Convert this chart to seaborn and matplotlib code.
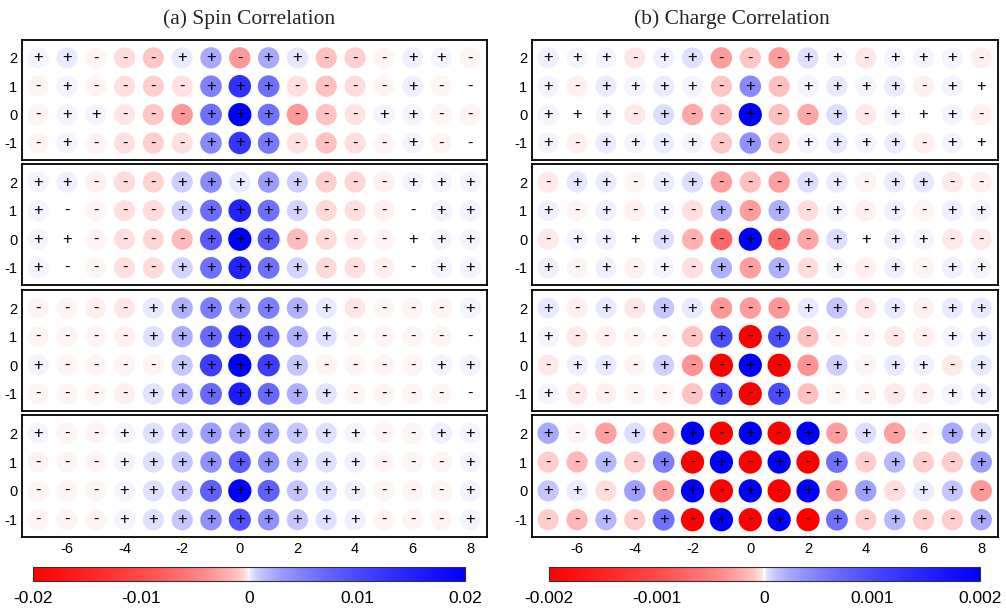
import numpy as np
import pandas as pd
import matplotlib
matplotlib.use("Agg")
import matplotlib.pyplot as plt
import seaborn as sns
from matplotlib.colors import ListedColormap, Normalize
from matplotlib.cm import ScalarMappable

# ---------------- data ----------------
x_sites = list(range(-7, 9))
y_sites = [2, 1, 0, -1]
x_ticks = [-6, -4, -2, 0, 2, 4, 6, 8]

titles = ["(a) Spin Correlation", "(b) Charge Correlation"]

spin_unit = 1e-3      # spin values below are in units of 1e-3
charge_unit = 1e-4    # charge values below are in units of 1e-4
spin_lim = 0.02
charge_lim = 0.002
spin_cbar_ticks = [-0.02, -0.01, 0.0, 0.01, 0.02]
spin_cbar_labels = ["-0.02", "-0.01", "0", "0.01", "0.02"]
charge_cbar_ticks = [-0.002, -0.001, 0.0, 0.001, 0.002]
charge_cbar_labels = ["-0.002", "-0.001", "0", "0.001", "0.002"]

# rows are y = 2, 1, 0, -1 ; columns are x = -7 ... 8
spin_p1 = [
    [0.02, 0.1, -0.05, -0.35, -1.0, 0.15, 2.3, -3.2, 2.3, 0.2, -1.2, -0.7, -0.05, 0.08, 0.03, -0.05],
    [-0.03, 0.05, -0.03, -0.3, -0.7, -0.3, 5.0, 13.0, 6.3, -0.3, -1.2, -0.4, -0.03, 0.06, -0.02, -0.01],
    [-0.03, 0.05, 0.02, -0.2, -1.0, -3.2, 6.3, 20.0, 6.3, -3.2, -1.1, -0.25, 0.03, 0.05, -0.03, -0.03],
    [-0.03, 0.05, -0.03, -0.3, -0.7, -0.3, 4.3, 12.5, 5.6, -0.3, -1.2, -0.3, -0.02, 0.04, -0.02, -0.01],
]
spin_p2 = [
    [0.03, 0.06, -0.07, -0.4, -0.6, 0.7, 4.2, 0.1, 3.0, 0.7, -0.7, -0.5, -0.07, 0.04, 0.02, 0.02],
    [0.03, -0.01, -0.05, -0.3, -0.4, 0.6, 6.6, 15.0, 6.3, 0.6, -0.45, -0.3, -0.07, -0.01, 0.03, 0.03],
    [0.03, 0.01, -0.05, -0.3, -0.5, -1.4, 8.5, 20.0, 8.5, -1.4, -0.4, -0.15, -0.05, 0.01, 0.03, 0.03],
    [0.03, -0.01, -0.05, -0.3, -0.4, 0.6, 6.3, 15.0, 6.3, 0.6, -0.45, -0.3, -0.07, -0.01, 0.03, 0.03],
]
spin_p3 = [
    [-0.03, -0.04, -0.07, -0.2, 0.15, 2.0, 5.2, 2.8, 5.2, 2.0, 0.15, -0.18, -0.05, -0.04, -0.02, 0.04],
    [-0.03, -0.04, -0.05, -0.07, 0.28, 2.0, 7.0, 16.0, 7.0, 2.0, 0.28, -0.04, -0.04, -0.03, -0.03, -0.01],
    [0.02, -0.04, -0.05, -0.05, -0.02, 1.0, 11.5, 20.0, 11.5, 1.0, -0.02, -0.05, -0.05, -0.04, 0.02, 0.02],
    [-0.03, -0.04, -0.05, -0.06, 0.25, 2.0, 7.0, 16.0, 7.0, 2.0, 0.25, -0.05, -0.04, -0.04, -0.03, -0.01],
]
spin_p4 = [
    [0.05, -0.05, -0.05, 0.04, 0.3, 1.0, 3.0, 2.4, 3.0, 1.0, 0.3, 0.04, -0.04, -0.04, 0.08, 0.04],
    [-0.03, -0.04, -0.04, 0.05, 0.3, 1.0, 3.8, 8.3, 3.8, 1.0, 0.3, 0.06, -0.04, -0.04, -0.03, 0.03],
    [-0.03, -0.04, -0.04, 0.05, 0.3, 1.1, 7.8, 20.0, 7.8, 1.1, 0.3, 0.06, -0.04, -0.04, -0.03, 0.03],
    [-0.03, -0.04, -0.04, 0.05, 0.3, 1.0, 3.8, 9.3, 3.8, 1.0, 0.3, 0.06, -0.04, -0.04, -0.03, 0.03],
]
charge_p1 = [
    [0.08, 0.02, 0.05, -0.18, 0.06, 0.3, -3.0, -1.0, -3.0, 0.3, 0.03, -0.18, 0.05, 0.02, 0.05, -0.09],
    [0.05, -0.09, 0.1, 0.02, 0.1, 0.03, -1.0, 4.3, -1.2, 0.02, 0.15, 0.02, 0.1, -0.09, 0.05, 0.01],
    [0.03, 0.01, 0.04, -0.15, 0.35, -2.3, -1.4, 20.0, -1.2, -2.4, 0.35, -0.15, 0.03, 0.01, 0.03, -0.09],
    [0.05, -0.09, 0.1, 0.02, 0.1, 0.03, -1.0, 3.8, -1.2, 0.02, 0.15, 0.02, 0.1, -0.09, 0.05, 0.01],
]
charge_p2 = [
    [-0.15, 0.2, 0.1, -0.04, 0.1, 0.35, -2.8, -1.2, -2.8, 0.35, 0.1, -0.05, 0.1, 0.2, -0.15, -0.07],
    [0.06, -0.04, 0.06, -0.09, 0.02, -0.3, 2.0, -3.0, 2.0, -0.35, 0.02, -0.09, 0.06, -0.04, 0.06, 0.02],
    [-0.15, 0.04, 0.06, 0.01, 0.35, -1.9, -7.0, 20.0, -7.0, -2.4, 0.35, 0.01, 0.06, 0.04, -0.15, -0.15],
    [0.06, -0.04, 0.06, -0.09, 0.02, -0.3, 2.0, -2.8, 2.0, -0.35, 0.02, -0.09, 0.06, -0.04, 0.06, 0.02],
]
charge_p3 = [
    [0.15, -0.09, 0.15, -0.2, 1.0, 0.15, -3.3, -3.0, -3.3, 0.15, 1.0, -0.2, 0.15, -0.09, 0.15, 0.15],
    [0.03, -0.15, -0.09, -0.03, -0.03, -1.1, 10.0, -20.0, 10.0, -1.2, -0.03, -0.03, -0.15, -0.09, 0.03, 0.1],
    [-0.15, 0.08, 0.15, -0.05, 0.7, -3.6, -20.0, 20.0, -20.0, -3.6, 0.7, -0.05, 0.15, 0.08, -0.15, 0.15],
    [0.03, -0.15, -0.09, -0.03, -0.03, -1.1, 10.0, -20.0, 10.0, -1.2, -0.03, -0.03, -0.15, -0.09, 0.03, 0.1],
]
charge_p4 = [
    [2.3, -0.04, -2.8, 0.35, -3.0, 20.0, -20.0, 20.0, -20.0, 20.0, -3.0, 0.35, -2.8, -0.04, 2.3, 0.4],
    [-0.8, -1.6, 1.6, -0.8, 5.2, -20.0, 20.0, -20.0, 20.0, -20.0, 6.3, -0.8, 1.6, -0.8, -0.8, 3.0],
    [1.0, 0.1, -0.35, 2.8, -3.0, 20.0, -20.0, 20.0, -20.0, 20.0, -3.2, 2.8, -0.35, 0.1, 1.0, -3.2],
    [-0.8, -1.6, 1.6, -0.8, 6.3, -20.0, 20.0, -20.0, 20.0, -20.0, 6.3, -0.8, 1.6, -0.8, -0.8, 2.3],
]

spin_panels = [spin_p1, spin_p2, spin_p3, spin_p4]
charge_panels = [charge_p1, charge_p2, charge_p3, charge_p4]

# ---------------- style ----------------
sns.set_style("white")
plt.rcParams["font.family"] = ["Liberation Sans", "DejaVu Sans"]

W, H = 1006, 608
fig = plt.figure(figsize=(W / 100, H / 100), dpi=100)

# red - white - blue map (sqrt ramp, as in the reference colour bar)
t = np.linspace(-1, 1, 1025)
cols = []
for ti in t:
    f = 1 - np.sqrt(abs(ti))
    cols.append((1.0, f, f) if ti < 0 else (f, f, 1.0))
cmap = ListedColormap(cols)


def px_rect(x0, y0, x1, y1):
    return [x0 / W, 1 - y1 / H, (x1 - x0) / W, (y1 - y0) / H]


col_x = [(22, 487), (532, 998)]
row_y = [(40, 160), (164, 285), (290, 411), (415, 537)]


def draw_panel(ax, grid, unit, lim, bottom):
    X, Y, V = [], [], []
    for yi, row in zip(y_sites, grid):
        for xi, v in zip(x_sites, row):
            X.append(xi)
            Y.append(yi)
            V.append(v * unit)
    df = pd.DataFrame({"x": X, "y": Y, "v": V})
    df["mag"] = np.minimum(np.abs(df["v"]), lim)
    sns.scatterplot(data=df, x="x", y="y", hue="v", palette=cmap,
                    hue_norm=Normalize(-lim, lim), size="mag",
                    sizes=(230, 280), size_norm=(0, lim),
                    linewidth=0, edgecolor="none", legend=False, ax=ax,
                    zorder=1)
    for xi, yi, v in zip(df["x"], df["y"], df["v"]):
        ax.text(float(xi), float(yi), "+" if v > 0 else "-",
                ha="center", va="center", fontsize=12, color="black",
                zorder=10)
    ax.set_xlim(-7.56, 8.58)
    ax.set_ylim(-1.6, 2.63)
    ax.set_xlabel("")
    ax.set_ylabel("")
    ax.set_yticks(y_sites)
    ax.set_yticklabels([str(v) for v in y_sites])
    if bottom:
        ax.set_xticks(x_ticks)
        ax.set_xticklabels([str(v) for v in x_ticks])
    else:
        ax.set_xticks([])
    ax.tick_params(length=0, pad=3.5, labelsize=10.5, colors="black")
    for sp in ax.spines.values():
        sp.set_visible(True)
        sp.set_color("black")
        sp.set_linewidth(1.3)


for c, (panels, unit, lim) in enumerate([(spin_panels, spin_unit, spin_lim),
                                          (charge_panels, charge_unit, charge_lim)]):
    x0, x1 = col_x[c]
    for r, grid in enumerate(panels):
        y0, y1 = row_y[r]
        ax = fig.add_axes(px_rect(x0, y0, x1, y1))
        draw_panel(ax, grid, unit, lim, bottom=(r == 3))

# titles
fig.text(249 / W, 1 - 19 / H, titles[0], ha="center", va="center",
         fontsize=15.5, family=["Liberation Serif", "DejaVu Serif"])
fig.text(732 / W, 1 - 19 / H, titles[1], ha="center", va="center",
         fontsize=15.5, family=["Liberation Serif", "DejaVu Serif"])

# colour bars
for (cx0, cx1), lim, ticks, labels in [((33, 465), spin_lim, spin_cbar_ticks, spin_cbar_labels),
                                       ((549, 980), charge_lim, charge_cbar_ticks, charge_cbar_labels)]:
    cax = fig.add_axes(px_rect(cx0, 567, cx1, 581))
    sm = ScalarMappable(norm=Normalize(-lim, lim), cmap=cmap)
    cb = fig.colorbar(sm, cax=cax, orientation="horizontal")
    cb.set_ticks(ticks)
    cb.set_ticklabels(labels)
    cax.tick_params(labelsize=12.5, length=3, direction="in", pad=7, colors="black")
    cb.outline.set_edgecolor("#333333")
    cb.outline.set_linewidth(0.8)

fig.savefig("out.png", dpi=100)
